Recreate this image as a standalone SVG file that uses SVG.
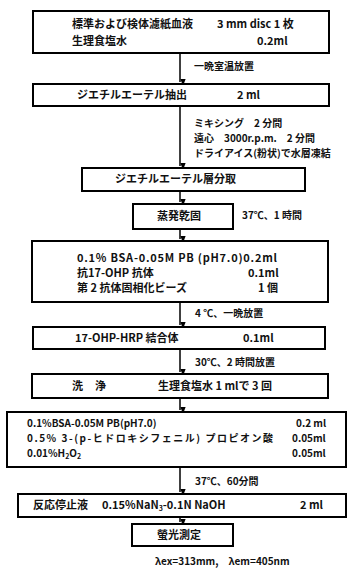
<svg xmlns="http://www.w3.org/2000/svg" width="347" height="575" viewBox="0 0 347 575">
<style>
  .box { fill: #fff; stroke: #000; stroke-width: 2; }
  .t { font-family: "Noto Sans CJK JP", "Noto Sans", sans-serif; font-size: 11px; font-weight: bold; fill: #111; }
  .s { font-family: "Noto Sans CJK JP", "Noto Sans", sans-serif; font-size: 10px; font-weight: bold; fill: #111; }
  .l { font-family: "Noto Sans CJK JP", "Noto Sans", sans-serif; font-size: 10px; font-weight: bold; fill: #111; }
  .c { stroke: #000; stroke-width: 1.5; fill: none; marker-end: url(#ah); }
  .sub { font-size: 7px; }
</style>
<defs>
  <marker id="ah" markerWidth="6" markerHeight="8" refX="3" refY="7" orient="auto" markerUnits="userSpaceOnUse" viewBox="0 0 6 8">
    <path d="M0,0 L6,0 L3,8 Z" fill="#000" transform="rotate(-90 3 4)"/>
  </marker>
</defs>
<rect width="347" height="575" fill="#fff"/>

<g id="connectors">
  <line class="c" x1="180" y1="53" x2="180" y2="82"/>
  <line class="c" x1="180" y1="106" x2="180" y2="166"/>
  <line class="c" x1="180" y1="191" x2="180" y2="202"/>
  <line class="c" x1="180" y1="229" x2="180" y2="239"/>
  <line class="c" x1="180" y1="302" x2="180" y2="325"/>
  <line class="c" x1="180" y1="349" x2="180" y2="372"/>
  <line class="c" x1="180" y1="398" x2="180" y2="410"/>
  <line class="c" x1="180" y1="467" x2="180" y2="492"/>
  <line class="c" x1="180" y1="518" x2="180" y2="522"/>
  <text class="l" x="194" y="70">一晩室温放置</text>
  <text class="l" x="194" y="127">ミキシング　2 分間</text>
  <text class="l" x="194" y="142">遠心　3000r.p.m.　2 分間</text>
  <text class="l" x="194" y="157">ドライアイス(粉状)で水層凍結</text>
  <text class="l" x="242" y="219">37℃、1 時間</text>
  <text class="l" x="195" y="317">4 ℃、一晩放置</text>
  <text class="l" x="195" y="366">30℃、2 時間放置</text>
  <text class="l" x="195" y="485">37℃、60分間</text>
</g>

<g id="n1">
  <rect class="box" x="33" y="11" width="296" height="42"/>
  <text class="t" x="72" y="28">標準および検体濾紙血液</text>
  <text class="t" x="217" y="28">3 mm disc 1 枚</text>
  <text class="t" x="72" y="45">生理食塩水</text>
  <text class="t" x="257" y="45">0.2ml</text>
</g>

<g id="n2">
  <rect class="box" x="33" y="84" width="296" height="22"/>
  <text class="t" x="77" y="99">ジエチルエーテル抽出</text>
  <text class="t" x="237" y="99">2 ml</text>
</g>

<g id="n3">
  <rect class="box" x="82" y="168" width="223" height="23"/>
  <text class="t" x="115" y="183">ジエチルエーテル層分取</text>
</g>

<g id="n4">
  <rect class="box" x="133" y="204" width="100" height="25"/>
  <text class="t" x="157" y="220">蒸発乾固</text>
</g>

<g id="n5">
  <rect class="box" x="32" y="241" width="296" height="61"/>
  <text class="t" x="77" y="262" textLength="200" lengthAdjust="spacing">0.1% BSA-0.05M PB (pH7.0)0.2ml</text>
  <text class="t" x="77" y="277">抗17-OHP 抗体</text>
  <text class="t" x="248" y="277">0.1ml</text>
  <text class="t" x="77" y="292">第 2 抗体固相化ビーズ</text>
  <text class="t" x="258" y="292">1 個</text>
</g>

<g id="n6">
  <rect class="box" x="33" y="327" width="292" height="22"/>
  <text class="t" x="75" y="342">17-OHP-HRP 結合体</text>
  <text class="t" x="243" y="342">0.1ml</text>
</g>

<g id="n7">
  <rect class="box" x="32" y="374" width="296" height="24"/>
  <text class="t" x="72" y="390">洗</text>
  <text class="t" x="95" y="390">浄</text>
  <text class="t" x="158" y="390">生理食塩水 1 mlで 3 回</text>
</g>

<g id="n8">
  <rect class="box" x="7" y="412" width="339" height="55"/>
  <text class="s" x="27" y="427">0.1%BSA-0.05M PB(pH7.0)</text>
  <text class="s" x="296" y="427">0.2 ml</text>
  <text class="s" x="27" y="442" textLength="246" lengthAdjust="spacing">0.5% 3-(p-ヒドロキシフェニル) プロピオン酸</text>
  <text class="s" x="292" y="442">0.05ml</text>
  <text class="s" x="27" y="457">0.01%H<tspan class="sub" dy="2">2</tspan><tspan dy="-2">O</tspan><tspan class="sub" dy="2">2</tspan></text>
  <text class="s" x="292" y="457">0.05ml</text>
</g>

<g id="n9">
  <rect class="box" x="18" y="494" width="328" height="23"/>
  <text class="t" x="33" y="509">反応停止液</text>
  <text class="t" x="102" y="509">0.15%NaN<tspan class="sub" dy="2">3</tspan><tspan dy="-2">-0.1N NaOH</tspan></text>
  <text class="t" x="300" y="509">2 ml</text>
</g>

<g id="n10">
  <rect class="box" x="132" y="524" width="101" height="22"/>
  <text class="t" x="157" y="539">螢光測定</text>
</g>

<text class="l" x="155" y="565">λex=313mm,　λem=405nm</text>
</svg>
